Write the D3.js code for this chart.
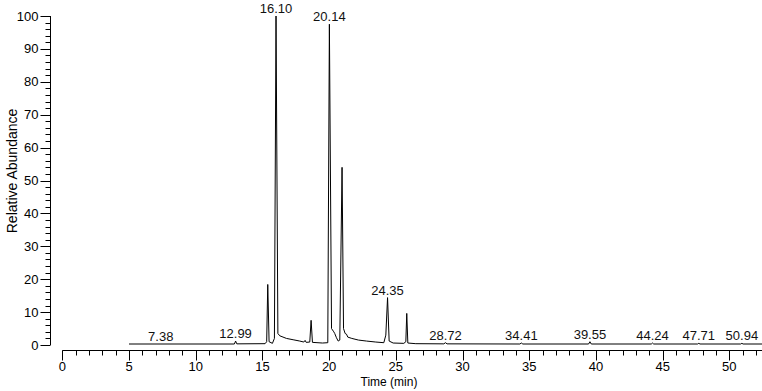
<!DOCTYPE html>
<html>
<head>
<meta charset="utf-8">
<script src="https://cdn.jsdelivr.net/npm/d3@7"></script>
<style>
  body { margin: 0; background: #fff; }
  svg { display: block; font-family: "Liberation Sans", Arial, sans-serif; }
</style>
</head>
<body>
<div id="chart"></div>
<script>
// chromatogram trace: retention time (min) and relative abundance (%)
const times = [
  5.0, 12.9, 12.99, 13.08, 15.2, 15.32, 15.4, 15.5, 15.75, 15.9,
  16.02, 16.16, 16.3, 16.8, 17.3, 17.8, 18.1, 18.2, 18.28, 18.55,
  18.65, 18.75, 19.5, 19.9, 20.02, 20.18, 20.35, 20.42, 20.55, 20.68,
  20.8, 20.97, 21.08, 21.2, 21.3, 21.4, 21.7, 22.2, 22.8, 23.5,
  24.1, 24.25, 24.38, 24.5, 24.8, 25.6, 25.75, 25.82, 25.9, 26.5,
  28.6, 28.72, 28.84, 34.3, 34.41, 34.52, 39.45, 39.55, 39.65, 44.15,
  44.24, 44.33, 47.62, 47.71, 47.8, 50.85, 50.94, 51.03, 52.5
];
const abundance = [
  0.3, 0.3, 1.2, 0.35, 0.4, 1.0, 18.4, 1.0, 0.5, 2.0,
  100, 3.5, 2.8, 2.0, 1.6, 1.2, 0.9, 1.4, 0.8, 0.9,
  7.5, 0.8, 0.6, 0.7, 97.5, 5.0, 4.0, 3.5, 2.2, 1.2,
  1.5, 54, 5.0, 3.5, 3.3, 2.4, 2.0, 1.5, 1.2, 0.9,
  0.7, 3.0, 14.4, 1.2, 0.6, 0.5, 1.0, 9.6, 0.6, 0.4,
  0.35, 0.7, 0.35, 0.3, 0.6, 0.3, 0.3, 1.0, 0.3, 0.3,
  0.6, 0.3, 0.3, 0.5, 0.3, 0.3, 0.5, 0.3, 0.3
];

// annotated peaks
const labelTimes = [7.38, 12.99, 16.10, 20.14, 24.35, 28.72, 34.41, 39.55, 44.24, 47.71, 50.94];
const labelPos = [7.38, 12.99, 16.02, 20.02, 24.38, 28.72, 34.41, 39.55, 44.24, 47.71, 50.94];
const labelHeights = [0.3, 1.2, 100, 97.5, 14.4, 0.7, 0.6, 1.0, 0.6, 0.5, 0.5];

const xTicks = [0, 5, 10, 15, 20, 25, 30, 35, 40, 45, 50];
const yTicks = [0, 10, 20, 30, 40, 50, 60, 70, 80, 90, 100];

const width = 762, height = 391;

const svg = d3.select("#chart")
  .append("svg")
  .attr("width", width)
  .attr("height", height);

const x = d3.scaleLinear().domain([0, 52.5]).range([62.3, 762.7]);
const y = d3.scaleLinear().domain([0, 100]).range([345, 16]);

// y axis
const yMinor = d3.range(0, 101, 2).filter((v) => v % 10 !== 0);
const yAxis = svg.append("g").attr("transform", "translate(50.5,0)");
yAxis.append("line")
  .attr("y1", y(100)).attr("y2", y(0))
  .attr("stroke", "#000");
yAxis.selectAll(".minor").data(yMinor).enter().append("line")
  .attr("x1", -5).attr("x2", 0)
  .attr("y1", (d) => Math.round(y(d)) + 0.5)
  .attr("y2", (d) => Math.round(y(d)) + 0.5)
  .attr("stroke", "#000");
yAxis.selectAll(".major").data(yTicks).enter().append("line")
  .attr("x1", -10).attr("x2", 0)
  .attr("y1", (d) => Math.round(y(d)) + 0.5)
  .attr("y2", (d) => Math.round(y(d)) + 0.5)
  .attr("stroke", "#000");
yAxis.selectAll("text").data(yTicks).enter().append("text")
  .attr("x", -12)
  .attr("y", (d) => y(d))
  .attr("dy", "0.35em")
  .attr("text-anchor", "end")
  .attr("font-size", 13)
  .text((d) => d);

// x axis
const xMinor = d3.range(0, 53, 1).filter((v) => v % 5 !== 0);
const xAxis = svg.append("g").attr("transform", "translate(0,350.5)");
xAxis.append("line")
  .attr("x1", x(0)).attr("x2", width)
  .attr("stroke", "#000");
xAxis.selectAll(".minor").data(xMinor).enter().append("line")
  .attr("x1", (d) => Math.round(x(d)) + 0.5)
  .attr("x2", (d) => Math.round(x(d)) + 0.5)
  .attr("y1", 0).attr("y2", 5)
  .attr("stroke", "#000");
xAxis.selectAll(".major").data(xTicks).enter().append("line")
  .attr("x1", (d) => Math.round(x(d)) + 0.5)
  .attr("x2", (d) => Math.round(x(d)) + 0.5)
  .attr("y1", 0).attr("y2", 10)
  .attr("stroke", "#000");
xAxis.selectAll("text").data(xTicks).enter().append("text")
  .attr("x", (d) => x(d))
  .attr("y", 20)
  .attr("text-anchor", "middle")
  .attr("font-size", 13)
  .text((d) => d);

svg.append("text")
  .attr("x", 389)
  .attr("y", 386)
  .attr("text-anchor", "middle")
  .attr("font-size", 12)
  .text("Time (min)");

svg.append("text")
  .attr("transform", "translate(17,171) rotate(-90)")
  .attr("text-anchor", "middle")
  .attr("font-size", 14)
  .text("Relative Abundance");

// trace
const points = times.map((t, i) => [t, abundance[i]]);
const line = d3.line().x((d) => x(d[0])).y((d) => y(d[1]));
svg.append("path")
  .datum(points)
  .attr("d", line)
  .attr("fill", "none")
  .attr("stroke", "#000")
  .attr("stroke-width", 1);

// peak labels
svg.append("g")
  .selectAll("text")
  .data(labelTimes)
  .enter()
  .append("text")
  .attr("x", (d, i) => x(labelPos[i]))
  .attr("y", (d, i) => y(labelHeights[i]) - 3)
  .attr("text-anchor", "middle")
  .attr("font-size", 13)
  .attr("fill", "#111")
  .text((d) => d.toFixed(2));
</script>
</body>
</html>
